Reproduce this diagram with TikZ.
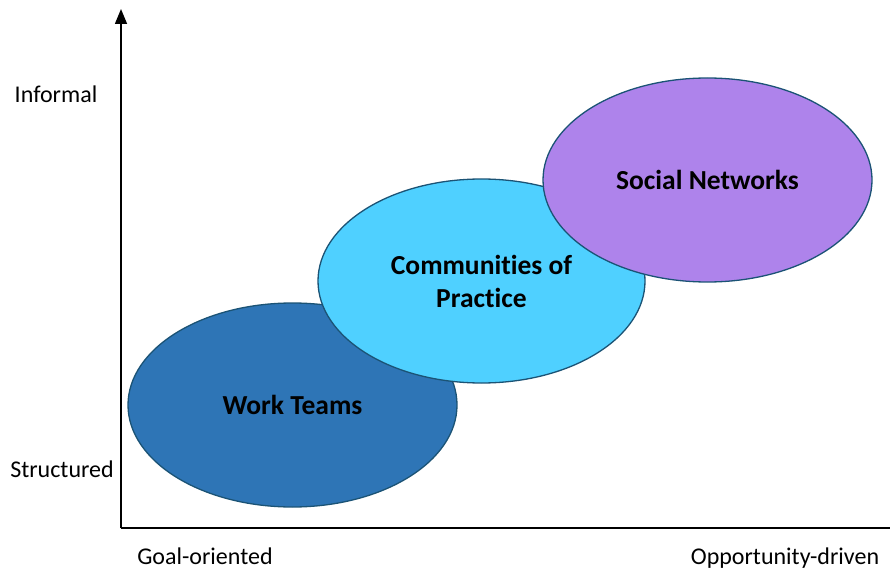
\documentclass[tikz,border=0pt]{standalone}
\usepackage{fontspec}
\setmainfont[Ligatures={NoCommon}]{Carlito}
\usetikzlibrary{arrows.meta,shapes.geometric}
\definecolor{wtcol}{HTML}{2E75B6}
\definecolor{cpcol}{HTML}{4FD0FF}
\definecolor{sncol}{HTML}{AE83EB}
\definecolor{edgecol}{HTML}{1B5375}
\begin{document}
\begin{tikzpicture}[x=1pt,y=-1pt,
  blob/.style={ellipse, draw=edgecol, line width=1.3pt, minimum width=329pt, minimum height=204pt, inner sep=0pt, font=\fontsize{27.5}{33}\selectfont\bfseries, align=center, text=black},
  axislabel/.style={font=\fontsize{24}{28}\selectfont, inner sep=0pt, anchor=base},
  axisline/.style={line width=1.5pt, black}]
\useasboundingbox (0,0) rectangle (890,569);
\coordinate (origin) at (121,528);
\coordinate (ytop) at (121,9);
\coordinate (xend) at (890,528);
\draw[axisline, -{Triangle[width=12pt,length=15pt]}] (origin) -- (ytop);
\draw[axisline] (origin) -- (xend);
\node[blob, fill=wtcol] (wt) at (292.5,405) {Work Teams};
\node[blob, fill=cpcol, minimum width=327pt] (cp) at (481.5,281) {Communities of\\Practice};
\node[blob, fill=sncol] (sn) at (707.5,180) {Social Networks};
\node[axislabel] (inf) at (56,103) {Informal};
\node[axislabel] (str) at (62,477) {Structured};
\node[axislabel] (goal) at (205,564) {Goal-oriented};
\node[axislabel] (opp) at (785,564) {Opportunity-driven};
\end{tikzpicture}
\end{document}
